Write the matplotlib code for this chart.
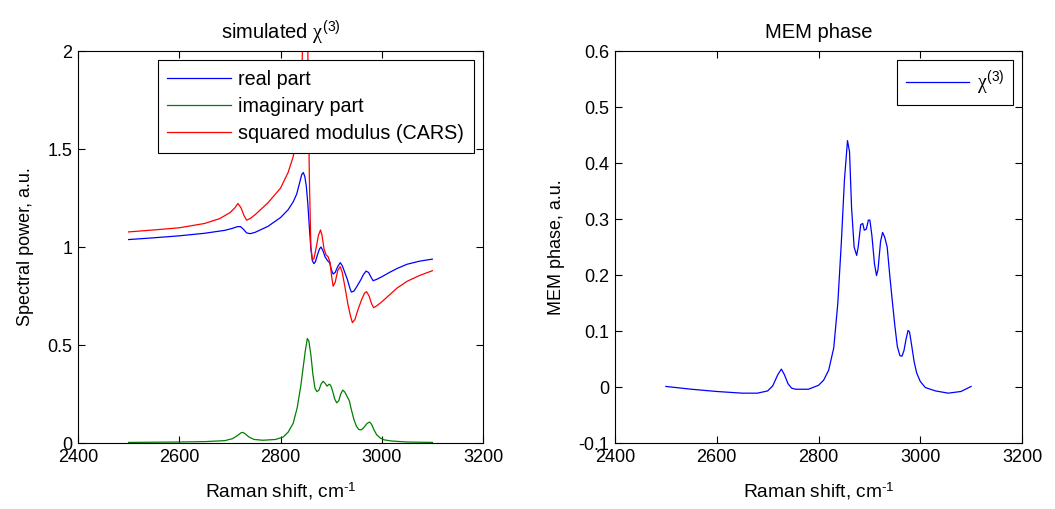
import matplotlib
matplotlib.use("Agg")
import matplotlib.pyplot as plt

plt.rcParams['font.family'] = ['Liberation Sans', 'DejaVu Sans']
plt.rcParams['mathtext.fontset'] = 'custom'
plt.rcParams['mathtext.rm'] = 'Liberation Sans'
plt.rcParams['mathtext.it'] = 'Liberation Serif'
plt.rcParams['mathtext.default'] = 'it'
plt.rcParams['axes.unicode_minus'] = False

# ---------------- data ----------------
real_x = [2500, 2550, 2600, 2650, 2690, 2705, 2715, 2721, 2727, 2733, 2740, 2750,
          2775, 2800, 2815, 2825, 2832, 2838, 2842, 2845, 2848, 2851, 2854, 2857,
          2860, 2863, 2866, 2869, 2873, 2877, 2880, 2884, 2888, 2893, 2897, 2901,
          2904, 2908, 2913, 2918, 2922, 2927, 2932, 2937, 2940, 2945, 2950, 2958,
          2964, 2969, 2974, 2979, 2983, 2990, 3000, 3015, 3030, 3050, 3075, 3100]
real_y = [1.038, 1.047, 1.057, 1.070, 1.085, 1.095, 1.104, 1.104, 1.090, 1.072, 1.068, 1.075,
          1.105, 1.150, 1.190, 1.230, 1.270, 1.330, 1.370, 1.380, 1.360, 1.310, 1.220, 1.100,
          0.990, 0.930, 0.915, 0.925, 0.960, 0.990, 1.000, 0.980, 0.950, 0.930, 0.920, 0.880,
          0.862, 0.870, 0.900, 0.920, 0.905, 0.870, 0.835, 0.790, 0.770, 0.775, 0.795, 0.830,
          0.860, 0.877, 0.870, 0.845, 0.828, 0.835, 0.848, 0.870, 0.890, 0.912, 0.928, 0.938]

imag_x = [2500, 2600, 2650, 2690, 2705, 2715, 2722, 2726, 2731, 2738, 2748, 2765,
          2790, 2805, 2815, 2825, 2833, 2840, 2845, 2849, 2853, 2856, 2860, 2864,
          2868, 2872, 2876, 2880, 2884, 2888, 2892, 2896, 2899, 2903, 2907, 2911,
          2915, 2919, 2923, 2927, 2931, 2936, 2940, 2945, 2950, 2955, 2960, 2965,
          2971, 2976, 2980, 2985, 2990, 2997, 3005, 3020, 3050, 3100]
imag_y = [0.003, 0.005, 0.007, 0.012, 0.022, 0.038, 0.052, 0.054, 0.045, 0.030, 0.018, 0.014,
          0.018, 0.030, 0.055, 0.100, 0.180, 0.290, 0.390, 0.470, 0.533, 0.520, 0.450, 0.350,
          0.280, 0.262, 0.270, 0.300, 0.315, 0.305, 0.290, 0.300, 0.295, 0.265, 0.225, 0.205,
          0.215, 0.250, 0.270, 0.260, 0.240, 0.215, 0.170, 0.120, 0.085, 0.068, 0.068, 0.080,
          0.100, 0.107, 0.095, 0.065, 0.042, 0.025, 0.016, 0.010, 0.005, 0.003]

cars_x = [2500, 2550, 2600, 2650, 2680, 2700, 2710, 2716, 2722, 2728, 2733, 2740,
          2750, 2775, 2800, 2815, 2825, 2832, 2838, 2842, 2845, 2848, 2851, 2854,
          2857, 2860, 2863, 2866, 2870, 2875, 2879, 2882, 2886, 2890, 2894, 2898,
          2901, 2904, 2908, 2913, 2918, 2922, 2927, 2933, 2938, 2942, 2947, 2953,
          2960, 2966, 2970, 2975, 2980, 2984, 2990, 3000, 3015, 3030, 3050, 3075, 3100]
cars_y = [1.077, 1.087, 1.098, 1.120, 1.145, 1.175, 1.200, 1.222, 1.200, 1.160, 1.137, 1.145,
          1.165, 1.225, 1.300, 1.380, 1.460, 1.560, 1.680, 1.850, 2.200, 3.500, 3.000, 2.000,
          1.350, 1.000, 0.935, 0.940, 0.990, 1.060, 1.087, 1.060, 0.990, 0.960, 0.950, 0.920,
          0.850, 0.800, 0.820, 0.880, 0.900, 0.870, 0.800, 0.710, 0.650, 0.614, 0.630, 0.680,
          0.730, 0.765, 0.772, 0.750, 0.710, 0.690, 0.700, 0.720, 0.755, 0.790, 0.825, 0.855, 0.879]

phase_x = [2500, 2550, 2600, 2650, 2680, 2700, 2710, 2720, 2727, 2733, 2740, 2747,
           2755, 2780, 2800, 2810, 2820, 2830, 2838, 2845, 2851, 2857, 2861, 2865,
           2870, 2875, 2878, 2883, 2887, 2890, 2894, 2898, 2901, 2905, 2910, 2914,
           2917, 2922, 2926, 2930, 2935, 2940, 2945, 2950, 2955, 2960, 2964, 2968,
           2972, 2976, 2979, 2983, 2988, 2993, 3000, 3010, 3030, 3055, 3080, 3100]
phase_y = [0.001, -0.004, -0.008, -0.011, -0.011, -0.007, 0.002, 0.022, 0.032, 0.022, 0.006, -0.002,
           -0.004, -0.004, 0.003, 0.012, 0.030, 0.070, 0.150, 0.260, 0.370, 0.440, 0.420, 0.320,
           0.250, 0.235, 0.250, 0.290, 0.292, 0.280, 0.282, 0.298, 0.298, 0.270, 0.220, 0.199,
           0.210, 0.260, 0.276, 0.268, 0.250, 0.200, 0.154, 0.110, 0.072, 0.056, 0.055, 0.065,
           0.085, 0.101, 0.098, 0.075, 0.045, 0.025, 0.010, -0.001, -0.007, -0.011, -0.008, 0.001]

xticks = [2400, 2600, 2800, 3000, 3200]
left_yticks = [0, 0.5, 1, 1.5, 2]
left_yticklabels = ['0', '0.5', '1', '1.5', '2']
right_yticks = [-0.1, 0, 0.1, 0.2, 0.3, 0.4, 0.5, 0.6]
right_yticklabels = ['-0.1', '0', '0.1', '0.2', '0.3', '0.4', '0.5', '0.6']

# ---------------- figure ----------------
W, H = 1055, 509
fig = plt.figure(figsize=(W / 100, H / 100), dpi=100)
ax1 = fig.add_axes([78 / W, 1 - 443 / H, 405 / W, 392 / H])
ax2 = fig.add_axes([615 / W, 1 - 443 / H, 407 / W, 392 / H])

fs = 13
lfs = 14.2
tfs = 14.5
xlab = r'Raman shift, cm$^{\text{-1}}$'
for ax in (ax1, ax2):
    ax.tick_params(direction='in', top=True, right=True, length=5, width=0.8,
                   labelsize=fs, pad=4)
    for s in ax.spines.values():
        s.set_linewidth(0.8)
    ax.set_xlim(2400, 3200)
    ax.set_xticks(xticks)
    ax.set_xlabel(xlab, fontsize=13.8, labelpad=11)

lw = 0.9
ax1.plot(real_x, real_y, color=(0, 0, 1), lw=lw, label='real part')
ax1.plot(imag_x, imag_y, color=(0, 0.5, 0), lw=lw, label='imaginary part')
ax1.plot(cars_x, cars_y, color=(1, 0, 0), lw=lw, label='squared modulus (CARS)')
ax1.set_ylim(0, 2)
ax1.set_yticks(left_yticks)
ax1.set_yticklabels(left_yticklabels)
ax1.set_ylabel('Spectral power, a.u.', fontsize=fs, labelpad=10)
ax1.set_title(r'simulated $\chi^{\rm (3)}$', fontsize=tfs, pad=9)
leg1 = ax1.legend(loc='upper right', fontsize=lfs, frameon=True, fancybox=False,
                  edgecolor='black', framealpha=1, handlelength=3.2,
                  borderaxespad=0.45, labelspacing=0.42, borderpad=0.5,
                  handletextpad=0.4)
leg1.get_frame().set_linewidth(0.8)

ax2.plot(phase_x, phase_y, color=(0, 0, 1), lw=lw, label=r'$\chi^{\rm (3)}$')
ax2.set_ylim(-0.1, 0.6)
ax2.set_yticks(right_yticks)
ax2.set_yticklabels(right_yticklabels)
ax2.set_ylabel('MEM phase, a.u.', fontsize=fs, labelpad=10)
ax2.set_title('MEM phase', fontsize=tfs, pad=9)
leg2 = ax2.legend(loc='upper right', fontsize=lfs, frameon=True, fancybox=False,
                  edgecolor='black', framealpha=1, handlelength=3.2,
                  borderaxespad=0.45, borderpad=0.45, handletextpad=0.4)
leg2.get_frame().set_linewidth(0.8)

fig.savefig('out.png', dpi=100)
